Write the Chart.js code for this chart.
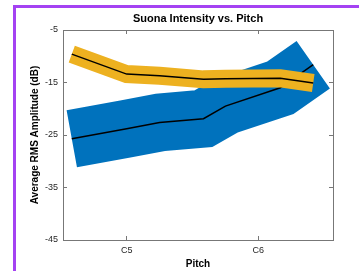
<!doctype html>
<html lang="en">
  <head>
    <meta charset="utf-8">
    <title>Suona Intensity vs. Pitch</title>
    <style>
      * {
        margin: 0;
        padding: 0;
      }
      body {
        width: 359px;
        height: 271px;
        overflow: hidden;
        background: white;
        position: relative;
      }
      .frame {
        position: absolute;
        left: 13px;
        top: 5px;
        width: 400px;
        height: 300px;
        border: 3px solid #a442f2;
      }
      #myChart {
        position: absolute;
        left: 0;
        top: 0;
      }
    </style>
  </head>
  <body>
    <canvas id="myChart" width="359" height="271"></canvas>
    <div class="frame"></div>
    <script src="https://cdn.jsdelivr.net/npm/chart.js"></script>
    <script>
    // pitches as MIDI note numbers (G4 .. F6)
    const pitches = [67, 72, 75, 79, 81, 86, 89];
    const orangeDb = [-9.6, -13.4, -13.7, -14.4, -14.3, -14.2, -15.1];
    const blueDb = [-25.7, -23.8, -22.6, -21.9, -19.5, -16.0, -11.6];
    const xTickValues = [72, 84];
    const xTickLabels = ['C5', 'C6'];
    const yTickValues = [-45, -35, -25, -15, -5];

    Chart.defaults.font.family = '"Liberation Sans", Arial, sans-serif';

    const points = ys => pitches.map((p, i) => ({x: p, y: ys[i]}));

    const xTicks = s => { s.ticks = xTickValues.map(v => ({value: v})); };
    const yTicks = s => { s.ticks = yTickValues.map(v => ({value: v})); };
    const inwardGrid = {drawOnChartArea: false, drawTicks: true, tickLength: -4, color: '#777', lineWidth: 1};
    const boxBorder = {color: '#777', width: 1};

    const data = {
      datasets: [
        {
          data: points(blueDb), borderColor: '#0072BD', borderWidth: 58,
          borderCapStyle: 'butt', borderJoinStyle: 'miter',
          pointRadius: 0, fill: false, clip: 0, order: 4
        },
        {
          data: points(blueDb), borderColor: '#000', borderWidth: 1.5,
          pointRadius: 0, fill: false, order: 3
        },
        {
          data: points(orangeDb), borderColor: '#EDB120', borderWidth: 18,
          borderCapStyle: 'butt', borderJoinStyle: 'miter',
          pointRadius: 0, fill: false, clip: 0, order: 2
        },
        {
          data: points(orangeDb), borderColor: '#000', borderWidth: 1.5,
          pointRadius: 0, fill: false, order: 1
        }
      ]
    };

    const config = {
      type: 'line',
      data,
      options: {
        responsive: false,
        animation: false,
        events: [],
        layout: {padding: {top: 6, right: 26, bottom: 0, left: 0}},
        plugins: {
          legend: {display: false},
          tooltip: {enabled: false}
        },
        scales: {
          x: {
            type: 'linear', position: 'bottom', min: 66.2, max: 90.8,
            afterBuildTicks: xTicks,
            afterFit: s => { s.height = 31; },
            ticks: {
              callback: v => xTickLabels[xTickValues.indexOf(v)],
              color: '#262626', font: {size: 9}, padding: 9, maxRotation: 0, autoSkip: false
            },
            grid: inwardGrid,
            border: boxBorder,
            title: {display: true, text: 'Pitch', color: '#000', font: {size: 10, weight: 'bold'}, padding: {top: 0, bottom: 1}}
          },
          // top axis closes the box and carries the chart title, centred over the plot
          x2: {
            type: 'linear', position: 'top', min: 66.2, max: 90.8,
            afterBuildTicks: xTicks,
            afterFit: s => { s.height = 24; },
            ticks: {display: false},
            grid: inwardGrid,
            border: boxBorder,
            title: {display: true, text: 'Suona Intensity vs. Pitch', color: '#000', font: {size: 11, weight: 'bold'}, padding: {top: 6, bottom: 0}}
          },
          y: {
            type: 'linear', position: 'left', min: -45, max: -5,
            afterBuildTicks: yTicks,
            afterFit: s => { s.width = 63; },
            ticks: {color: '#262626', font: {size: 9}, padding: 9},
            grid: inwardGrid,
            border: boxBorder,
            title: {display: true, text: 'Average RMS Amplitude (dB)', color: '#000', font: {size: 10, weight: 'bold'}, padding: {top: 29, bottom: 0}}
          },
          y2: {
            type: 'linear', position: 'right', min: -45, max: -5,
            afterBuildTicks: yTicks,
            afterFit: s => { s.width = 0; },
            ticks: {display: false},
            grid: inwardGrid,
            border: boxBorder
          }
        }
      }
    };

    const myChart = new Chart(document.getElementById('myChart'), config);
    </script>
  </body>
</html>
